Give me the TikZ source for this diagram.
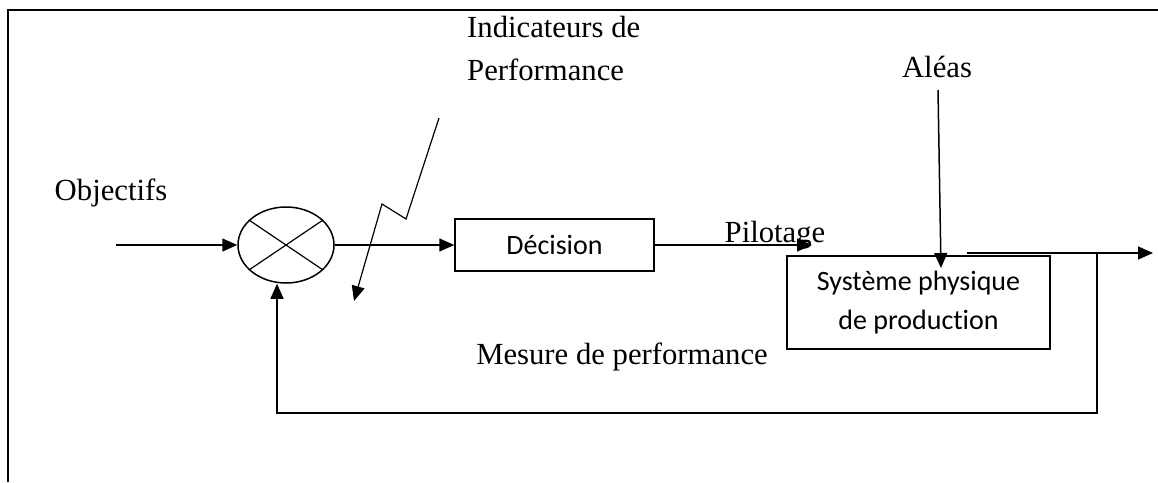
\documentclass[tikz,border=0pt]{standalone}
\usepackage{fontspec}
\setmainfont{Liberation Serif}
\newfontfamily\boxfont[Ligatures=NoCommon]{Carlito}
\usetikzlibrary{shapes.geometric,arrows.meta}
\tikzset{
  link/.style={line width=1.5pt,-{Triangle[length=15pt,width=13pt]}},
  plain/.style={line width=1.5pt},
  label/.style={font=\fontsize{30.7}{43}\selectfont,inner sep=0pt},
  block/.style={draw,line width=1.5pt,rectangle,inner sep=0pt,align=center,
    font=\boxfont\fontsize{28}{39}\selectfont},
  comparator/.style={draw,line width=1.5pt,ellipse,inner sep=0pt,
    minimum width=96pt,minimum height=76pt}
}
\begin{document}
\begin{tikzpicture}[x=1pt,y=-1pt]
\useasboundingbox (0,0) rectangle (1158,482);
% page frame
\coordinate (fb) at (8,482);
\coordinate (ft) at (8,10);
\coordinate (fr) at (1158,10);
\draw[plain] (fb) -- (ft) -- (fr);

% blocks
\node[comparator] (sum) at (286,245) {};
\draw[line width=1.2pt] (sum.146) -- (sum.326) (sum.34) -- (sum.214);
\node[block,minimum width=199pt,minimum height=52pt] (dec) at (554.5,245) {Décision};
\node[block,minimum width=263pt,minimum height=93pt] (sys) at (918.5,302.5)
  {Système physique\\de production};

% labels
\node[label,anchor=base] (obj) at (111,200) {Objectifs};
\node[label,anchor=base west,align=left] (ind) at (467,80) {Indicateurs de\\Performance};
\node[label,anchor=base] (pil) at (775,242) {Pilotage};
\node[label,anchor=base] (ale) at (937,77) {Aléas};
\node[label,anchor=base] (mes) at (622,364) {Mesure de performance};

% inputs and outputs
\coordinate (in) at (116,245);
\coordinate (pend) at (812,245);
\coordinate (atop) at (938,90);
\coordinate (aend) at (941,268);
\coordinate (ostart) at (967,253);
\coordinate (oend) at (1153,253);
\coordinate (fbr) at (1097,253);
\coordinate (fbl) at (277,413);

\draw[link] (in) -- (sum.west);
\draw[link] (sum.east) -- (dec.west);
\draw[link] (dec.east) -- (pend);
\draw[link] (atop) -- (aend);
\draw[link] (ostart) -- (oend);
\draw[link] (fbr) |- (fbl) -- (fbl |- sum.south);

% zigzag for the performance indicators
\coordinate (z1) at (439,118);
\coordinate (z2) at (406,219);
\coordinate (z3) at (382,204);
\coordinate (z4) at (354,301);
\draw[link,line width=1.2pt] (z1) -- (z2) -- (z3) -- (z4);
\end{tikzpicture}
\end{document}
